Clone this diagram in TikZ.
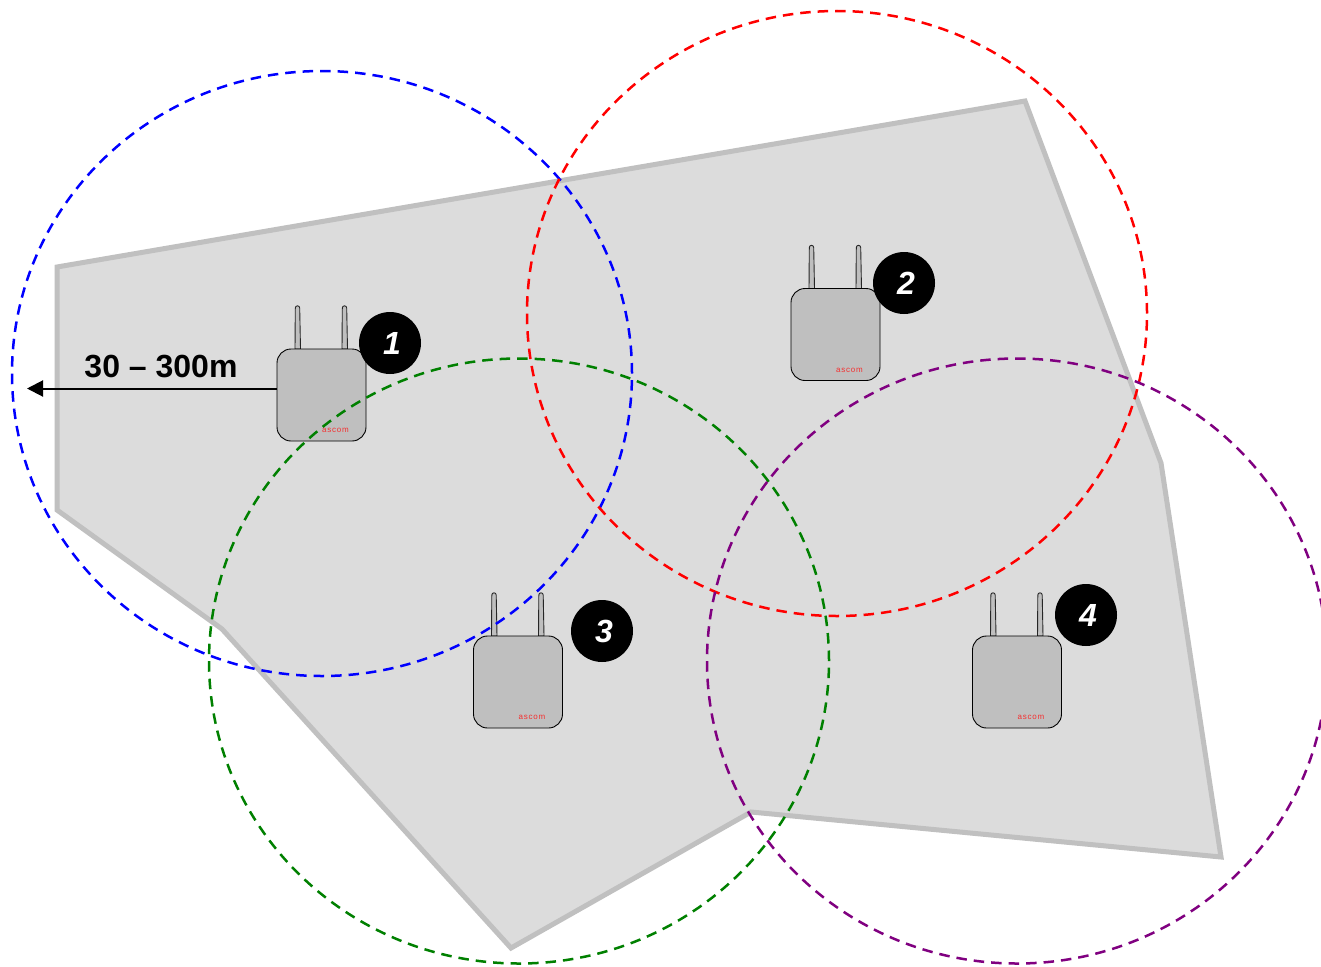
\documentclass[tikz,border=0pt]{standalone}
\usepackage{fontspec}
\setmainfont{Liberation Sans}
\usetikzlibrary{arrows.meta}
\definecolor{floorfill}{HTML}{DCDCDC}
\definecolor{floorline}{HTML}{C0C0C0}
\definecolor{routerfill}{HTML}{BFBFBF}
\definecolor{logored}{HTML}{F43030}
\definecolor{cellgreen}{HTML}{008000}
\definecolor{cellpurple}{HTML}{800080}
\tikzset{
  floorplan/.style={draw=floorline,fill=floorfill,line width=5pt,line join=miter},
  router/.style={draw=black,fill=routerfill,line width=0.9pt,rounded corners=14pt,minimum width=89pt,minimum height=92pt,inner sep=0pt,outer sep=0pt},
  antenna/.style={draw=black!85,fill=routerfill,line width=0.9pt},
  badge/.style={circle,fill=black,text=white,minimum size=62pt,inner sep=0pt,font=\fontsize{32}{32}\selectfont\bfseries\itshape},
  logo/.style={text=logored,inner sep=0pt,font=\fontsize{8}{8}\selectfont\addfontfeature{LetterSpace=10}},
  cellring/.style={dash pattern=on 10.5pt off 7pt,line width=2.5pt,x radius=310pt,y radius=302.5pt},
  rangelabel/.style={inner sep=0pt,font=\fontsize{32}{32}\selectfont\bfseries},
  rangearrow/.style={draw=black,line width=2pt,-{Triangle[length=16pt,width=16pt]}},
}
\newcommand{\routerat}[3]{%
  \draw[antenna] (#2+18,#3) -- (#2+18.3,#3-41) arc[start angle=180,end angle=360,radius=2.2] -- (#2+23.5,#3) -- cycle;
  \draw[antenna] (#2+65,#3) -- (#2+65.3,#3-41) arc[start angle=180,end angle=360,radius=2.2] -- (#2+70.5,#3) -- cycle;
  \node[router] (#1) at (#2+44.5,#3+46) {};
  \node[logo] (#1logo) at (#2+58.5,#3+81.5) {ascom};
}
\begin{document}
\begin{tikzpicture}[x=1pt,y=-1pt]
\clip (0,0) rectangle (1321,966);
\fill[white] (0,0) rectangle (1321,966);
\draw[floorplan] (57,267) -- (1025,101) -- (1161,463) -- (1221,857) -- (751,812) -- (511,948) -- (222,629) -- (57,510) -- cycle;

\routerat{ra}{277}{349}
\routerat{rb}{791}{288.5}
\routerat{rc}{473.5}{636}
\routerat{rd}{972.5}{636}

\node[badge] (ba) at (390,343) {\hspace*{4pt}1};
\node[badge] (bb) at (904,283) {\hspace*{4pt}2};
\node[badge] (bc) at (602,631) {\hspace*{4pt}3};
\node[badge] (bd) at (1086,615) {\hspace*{4pt}4};

\coordinate (tip) at (27,388.5);
\draw[rangearrow] (ra.west |- tip) -- (tip);
\node[rangelabel] (rl) at (161,367) {30 – 300m};

\draw[cellring,draw=blue] (322,373.5) ellipse [];
\draw[cellring,draw=red] (837,313.5) ellipse [];
\draw[cellring,draw=cellgreen] (519,661) ellipse [];
\draw[cellring,draw=cellpurple] (1017,661) ellipse [];
\end{tikzpicture}
\end{document}
